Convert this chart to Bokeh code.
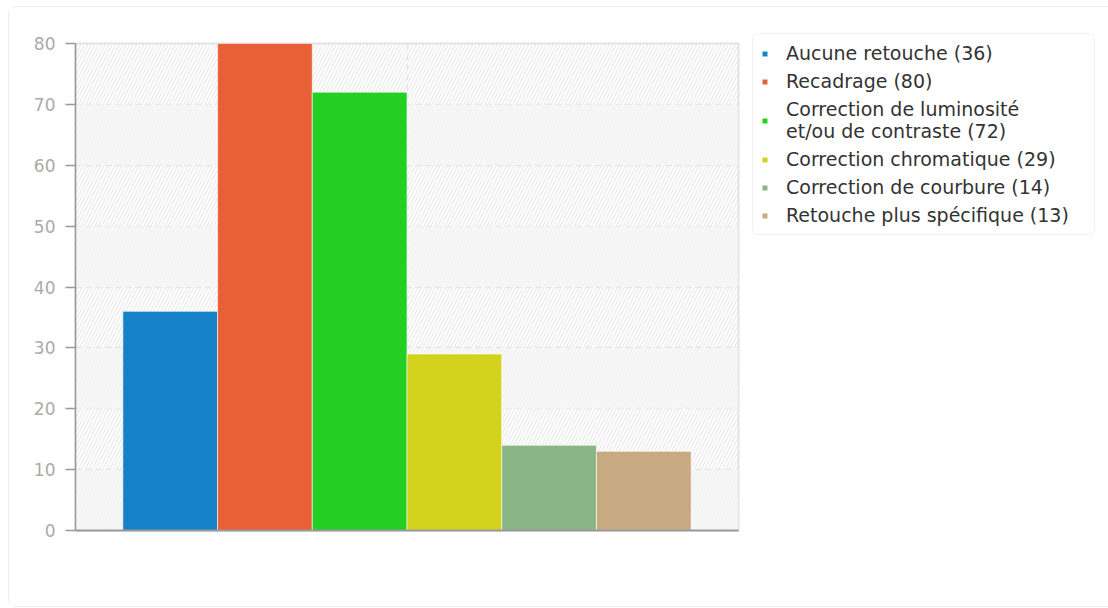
from bokeh.plotting import figure
from bokeh.models import (ColumnDataSource, Range1d, FixedTicker, BoxAnnotation,
                          Legend, LegendItem)
from bokeh.embed import file_html
from bokeh.resources import INLINE

labels = ["Aucune retouche (36)", "Recadrage (80)",
          "Correction de luminosité\net/ou de contraste (72)",
          "Correction chromatique (29)", "Correction de courbure (14)",
          "Retouche plus spécifique (13)"]
values = [36, 80, 72, 29, 14, 13]
colors = ["#1582c8", "#e86035", "#22cf22", "#d3d31d", "#8ab584", "#c8aa82"]
y_ticks = [0, 10, 20, 30, 40, 50, 60, 70, 80]

n = len(values)
bw = 1.0 / (n + 1)
xs = [(i - (n - 1) / 2) * bw for i in range(n)]

p = figure(output_backend="svg", toolbar_location=None,
           frame_width=663, frame_height=487,
           min_border_left=66, min_border_top=36, min_border_bottom=76,
           min_border_right=371,
           x_range=Range1d(-0.5, 0.5), y_range=Range1d(0, 80))
p.margin = (6, 0, 0, 8)
p.styles = {"border": "1px solid #eeeeee", "border-radius": "8px"}
p.title.visible = False

p.background_fill_color = "white"
p.border_fill_color = "white"
p.outline_line_color = "#e3e3e3"
p.outline_line_width = 2

# hatch background and alternating bands
p.add_layout(BoxAnnotation(left=-0.5, right=0.5, bottom=0, top=80,
                           fill_alpha=0, line_alpha=0, hatch_pattern="/",
                           hatch_color="#e4e4e4", hatch_scale=7, hatch_weight=1,
                           level="underlay"))
for b in y_ticks[:-1:2]:
    p.add_layout(BoxAnnotation(left=-0.5, right=0.5, bottom=b, top=b + 10,
                               fill_color="#f5f5f5", fill_alpha=0.7, line_alpha=0,
                               level="underlay"))

renderers = []
for i in range(n):
    src = ColumnDataSource(dict(x=[xs[i]], top=[values[i]]))
    r = p.vbar(x="x", top="top", width=bw, bottom=0, source=src,
               fill_color=colors[i], line_color="white", line_alpha=0.6, line_width=1)
    renderers.append(r)

legend = Legend(items=[LegendItem(label=labels[i], renderers=[renderers[i]]) for i in range(n)],
                location=(14, 295), orientation="vertical")
legend.glyph_width = 7
legend.glyph_height = 7
legend.label_standoff = 18
legend.label_text_font = "DejaVu Sans"
legend.label_text_font_size = "19px"
legend.label_text_line_height = 0.85
legend.label_text_color = "#333333"
legend.label_height = 22
legend.label_width = 300
legend.spacing = 6
legend.padding = 8
legend.margin = 0
legend.border_line_color = "#e3e3e3"
legend.border_line_width = 1.5
legend.background_fill_color = "white"
if "border_radius" in legend.properties():
    legend.border_radius = 6
p.add_layout(legend, "right")

# axes
p.yaxis.ticker = FixedTicker(ticks=y_ticks)
p.yaxis.axis_line_color = "#999999"
p.yaxis.axis_line_width = 1.5
p.yaxis.major_tick_line_color = "#999999"
p.yaxis.major_tick_line_width = 1.5
p.yaxis.major_tick_out = 10
p.yaxis.major_tick_in = 0
p.yaxis.minor_tick_line_color = None
p.yaxis.major_label_text_color = "#aaaaaa"
p.yaxis.major_label_text_font = "DejaVu Sans"
p.yaxis.major_label_text_font_size = "17px"
p.yaxis.major_label_standoff = 10

p.xaxis.ticker = FixedTicker(ticks=[])
p.xaxis.axis_line_color = "#999999"
p.xaxis.axis_line_width = 2
p.xaxis.major_tick_line_color = None
p.xaxis.minor_tick_line_color = None

p.ygrid.ticker = FixedTicker(ticks=y_ticks)
p.ygrid.grid_line_color = "#e4e4e4"
p.ygrid.grid_line_dash = "6 4"
p.ygrid.grid_line_width = 1.5
p.xgrid.ticker = FixedTicker(ticks=[0])
p.xgrid.grid_line_color = "#e4e4e4"
p.xgrid.grid_line_dash = "6 4"
p.xgrid.grid_line_width = 1.5

open("out.html", "w").write(file_html(p, INLINE))
